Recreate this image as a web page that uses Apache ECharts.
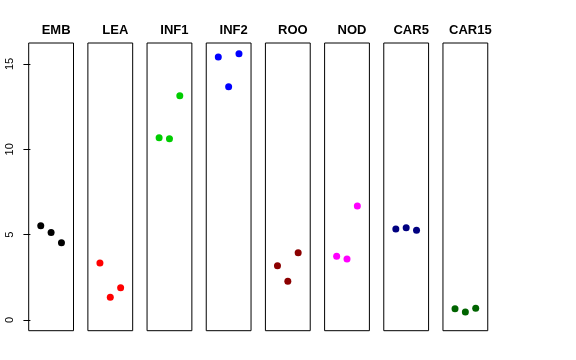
<!DOCTYPE html>
<html>
<head>
<meta charset="utf-8">
<script src="https://cdn.jsdelivr.net/npm/echarts@6/dist/echarts.min.js"></script>
<style>html,body{margin:0;padding:0;background:#fff}#c{width:576px;height:360px}</style>
</head>
<body>
<div id="c"></div>
<script>
const categories = ['EMB','LEA','INF1','INF2','ROO','NOD','CAR5','CAR15'];
const colors = ['#000000','#ff0000','#00cd00','#0000ff','#8b0000','#ff00ff','#000080','#006400'];
const xPositions = [1, 2, 3];
const valEMB   = [5.52, 5.12, 4.53];
const valLEA   = [3.34, 1.33, 1.89];
const valINF1  = [10.68, 10.62, 13.14];
const valINF2  = [15.41, 13.67, 15.60];
const valROO   = [3.18, 2.27, 3.94];
const valNOD   = [3.73, 3.57, 6.68];
const valCAR5  = [5.33, 5.41, 5.25];
const valCAR15 = [0.66, 0.47, 0.68];
const yTicks = [0, 5, 10, 15];

(function () {
const allVals = [valEMB, valLEA, valINF1, valINF2, valROO, valNOD, valCAR5, valCAR15];
const chart = echarts.init(document.getElementById('c'));
const grids = [], xAxes = [], yAxes = [], series = [], titles = [];
const left0 = 28.7, step = 59.18, w = 44.8, gTop = 43, gH = 287.7;
categories.forEach((cat, i) => {
  const l = left0 + i * step;
  grids.push({left: l, top: gTop, width: w, height: gH, show: true, borderColor: '#000', borderWidth: 1, backgroundColor: 'transparent'});
  xAxes.push({gridIndex: i, type: 'value', min: -0.165, max: 4.165, show: false});
  yAxes.push({
    gridIndex: i, type: 'value', min: -0.63, max: 16.23,
    show: i === 0,
    splitLine: {show: false},
    axisLine: {show: false},
    axisTick: {show: true, inside: false, length: 7, customValues: yTicks, lineStyle: {color: '#000'}},
    axisLabel: {show: true, customValues: yTicks, rotate: 90, margin: 13, fontSize: 11, color: '#000', fontFamily: 'Liberation Sans'}
  });
  series.push({
    type: 'scatter', xAxisIndex: i, yAxisIndex: i,
    symbol: 'circle', symbolSize: 7,
    itemStyle: {color: colors[i], opacity: 1},
    data: xPositions.map((x, k) => [x, allVals[i][k]]),
    silent: true
  });
  titles.push({
    text: cat, left: l + w / 2, top: 19, textAlign: 'center',
    textStyle: {fontSize: 13, fontWeight: 'bold', color: '#000', fontFamily: 'Liberation Sans'}
  });
});
chart.setOption({
  animation: false,
  backgroundColor: '#fff',
  title: titles,
  grid: grids,
  xAxis: xAxes,
  yAxis: yAxes,
  series: series
});
})();
</script>
</body>
</html>
